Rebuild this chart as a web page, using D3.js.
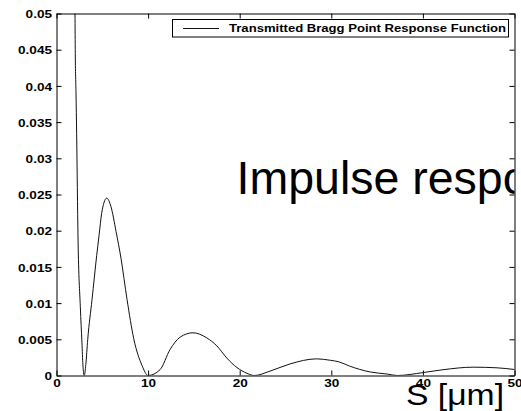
<!DOCTYPE html>
<html><head><meta charset="utf-8">
<script src="https://cdn.jsdelivr.net/npm/d3@7"></script>
<style>body{margin:0;background:#fff} svg{display:block}</style>
</head><body><svg id="c" width="521" height="411"></svg>
<script>
// Data
const sValues = [1.80, 1.90, 2.02, 2.05, 2.13, 2.20, 2.35, 2.60, 2.78, 2.88, 3.03, 3.20, 3.41, 3.88, 4.39, 4.64, 4.93, 5.19, 5.48, 5.95, 6.50, 7.04, 7.70, 8.43, 9.33, 10.0,
  11.3, 12.4, 13.5, 14.9, 16.4, 17.5, 18.6, 19.7, 20.8, 21.6,
  23.3, 25.5, 28.4, 29.9, 30.8, 32.0, 34.2, 36.1, 37.2,
  40.0, 42.2, 45.5, 48.1, 50.0];
const responseValues = [0.080, 0.064, 0.0500, 0.0445, 0.0390, 0.0334, 0.0190, 0.0095, 0.0045, 0.0015, 0, 0.0015, 0.0050, 0.0105, 0.0166, 0.0193, 0.0224, 0.0239, 0.0245, 0.0233, 0.0199, 0.0162, 0.0105, 0.0051, 0.0014, 0,
  0.0008, 0.0036, 0.0053, 0.0059, 0.0052, 0.0041, 0.0024, 0.0011, 0.0003, 0,
  0.0006, 0.0016, 0.0023, 0.0021, 0.0019, 0.0013, 0.0005, 0.0002, 0,
  0.0004, 0.0008, 0.00115, 0.00106, 0.00083];
const xTicks = [0, 10, 20, 30, 40, 50];
const xTickLabels = ["0", "10", "20", "30", "40", "50"];
const yTicks = [0, 0.005, 0.01, 0.015, 0.02, 0.025, 0.03, 0.035, 0.04, 0.045, 0.05];
const yTickLabels = ["0", "0.005", "0.01", "0.015", "0.02", "0.025", "0.03", "0.035", "0.04", "0.045", "0.05"];
const legendLabel = "Transmitted Bragg Point Response Function";
const annotationText = "Impulse response";
const xAxisLabel = "S [μm]";

const L = 56.5, R = 514.5, T = 13.5, B = 375.5;
const svg = d3.select("#c");
const x = d3.scaleLinear().domain([0, 50]).range([L, R]);
const y = d3.scaleLinear().domain([0, 0.05]).range([B, T]);

svg.append("rect").attr("width", 521).attr("height", 411).attr("fill", "#fff");

svg.append("defs").append("clipPath").attr("id", "plotclip")
  .append("rect").attr("x", L).attr("y", T).attr("width", R - L).attr("height", B - T);

const tickFont = "Arimo, 'Liberation Sans', Arial, Helvetica, sans-serif";

// axes (ticks inward, MATLAB style)
const tl = 5;
const axB = d3.axisBottom(x).tickValues(xTicks).tickFormat((d, i) => xTickLabels[i]).tickSizeInner(-tl).tickSizeOuter(0).tickPadding(8);
const axT = d3.axisTop(x).tickValues(xTicks).tickFormat("").tickSizeInner(-tl).tickSizeOuter(0);
const axL = d3.axisLeft(y).tickValues(yTicks).tickFormat((d, i) => yTickLabels[i]).tickSizeInner(-tl).tickSizeOuter(0).tickPadding(8);
const axR = d3.axisRight(y).tickValues(yTicks).tickFormat("").tickSizeInner(-tl).tickSizeOuter(0);

function styleAxis(g) {
  g.select(".domain").attr("stroke", "#000").attr("stroke-width", 1);
  g.selectAll(".tick line").attr("stroke", "#000").attr("stroke-width", 1);
  g.selectAll(".tick text").attr("fill", "#000").attr("font-family", tickFont)
    .attr("font-size", 11.5).attr("font-weight", "bold");
}
function stretch(sel, k) {
  sel.each(function () {
    const w = this.getComputedTextLength();
    d3.select(this).attr("textLength", w * k).attr("lengthAdjust", "spacingAndGlyphs");
  });
}
svg.append("g").attr("transform", `translate(0,${B})`).call(axB).call(styleAxis)
  .selectAll(".tick text").attr("dy", "0.72em").attr("y", 3).call(stretch, 1.18);
svg.append("g").attr("transform", `translate(0,${T})`).call(axT).call(styleAxis);
svg.append("g").attr("transform", `translate(${L},0)`).call(axL).call(styleAxis)
  .selectAll(".tick text").attr("x", -4.5).attr("dy", "0.36em").call(stretch, 1.18);
svg.append("g").attr("transform", `translate(${R},0)`).call(axR).call(styleAxis);

// curve
const pts = sValues.map((s, i) => [s, responseValues[i]]);
const line = d3.line().x(d => x(d[0])).y(d => y(d[1])).curve(d3.curveMonotoneX);
svg.append("g").attr("clip-path", "url(#plotclip)")
  .append("path").datum(pts).attr("d", line)
  .attr("fill", "none").attr("stroke", "#111").attr("stroke-width", 1);

// annotation text inside axes (clipped)
svg.append("g").attr("clip-path", "url(#plotclip)")
  .append("text").attr("x", 236.5).attr("y", 194)
  .attr("font-family", tickFont).attr("font-size", 46.5).attr("fill", "#000")
  .text(annotationText);

// legend
const lg = svg.append("g");
lg.append("rect").attr("x", 172.5).attr("y", 19.5).attr("width", 336).attr("height", 17.5)
  .attr("fill", "#fff").attr("stroke", "#000").attr("stroke-width", 1);
lg.append("line").attr("x1", 183).attr("x2", 219).attr("y1", 28.5).attr("y2", 28.5)
  .attr("stroke", "#111").attr("stroke-width", 1);
lg.append("text").attr("x", 229).attr("y", 32).attr("font-family", tickFont)
  .attr("font-size", 11.5).attr("font-weight", "bold").attr("fill", "#000")
  .attr("textLength", 277).attr("lengthAdjust", "spacingAndGlyphs").text(legendLabel);

// x axis label
svg.append("text").attr("x", 406).attr("y", 404.5)
  .attr("font-family", tickFont).attr("font-size", 30).attr("fill", "#000")
  .attr("textLength", 98).attr("lengthAdjust", "spacingAndGlyphs")
  .text(xAxisLabel);
</script>
</body></html>
